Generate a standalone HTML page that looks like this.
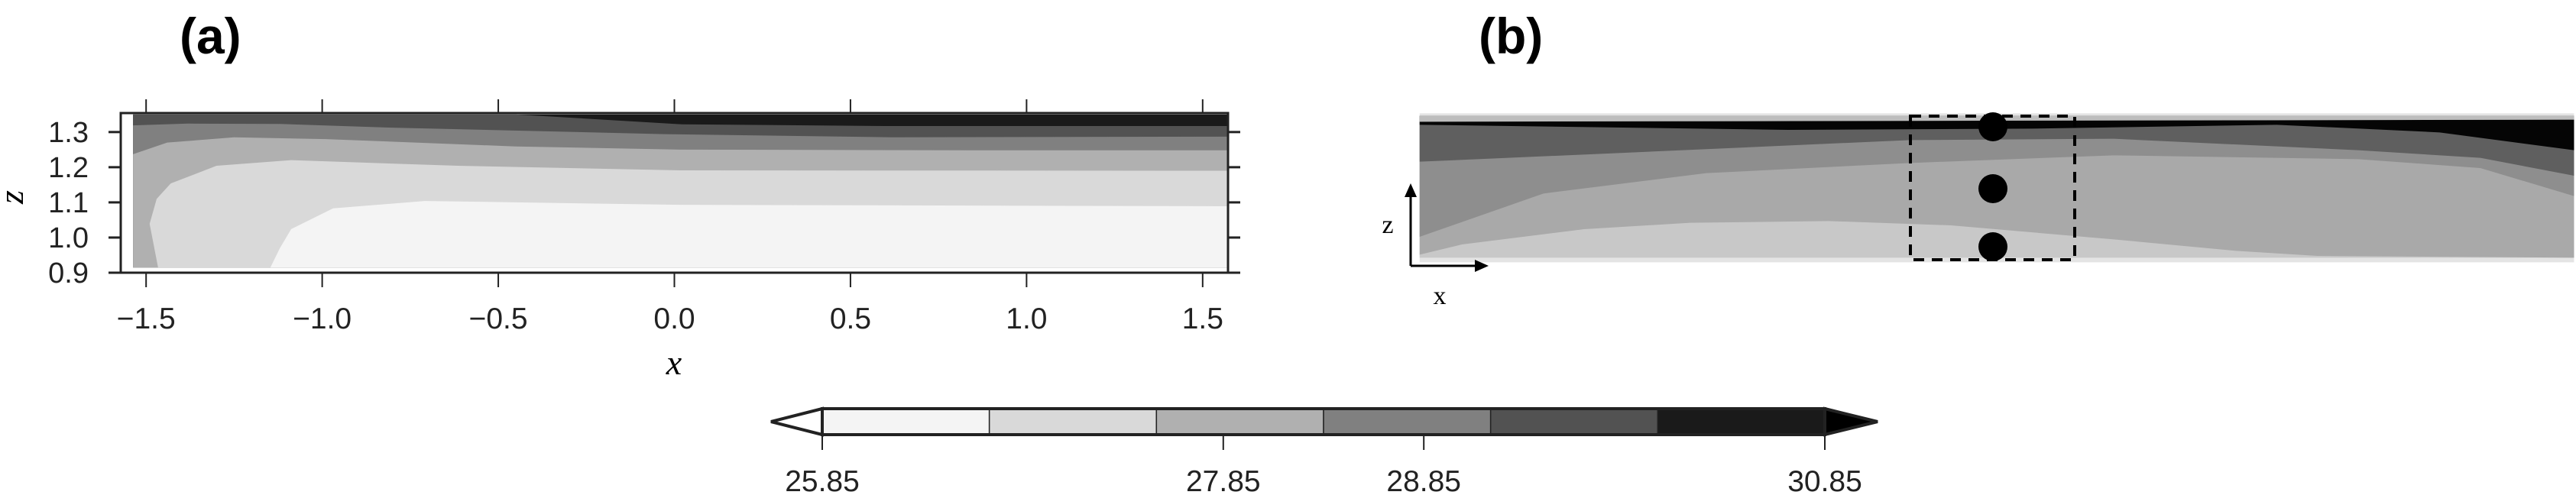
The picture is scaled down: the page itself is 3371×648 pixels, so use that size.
<!DOCTYPE html>
<html><head><meta charset="utf-8"><style>
html,body{margin:0;padding:0;background:#fff;}
svg{display:block;font-family:"Liberation Sans",sans-serif;}
</style></head><body>
<svg id="fig" width="3371" height="648" viewBox="0 0 3371 648">
<text x="235" y="70" font-size="66" font-weight="bold">(a)</text>
<text x="1935" y="70" font-size="66" font-weight="bold">(b)</text>
<g id="pa"></g>
<g id="pb"></g>
<g id="cb"></g>
</svg>
<script>
const NS="http://www.w3.org/2000/svg";
const levelColors=["#f4f4f4","#d9d9d9","#b0b0b0","#808080","#525252","#1a1a1a"];
const cbTickValues=[25.85,27.85,28.85,30.85];
const cbTickLabels=["25.85","27.85","28.85","30.85"];
const xTicks=[-1.5,-1.0,-0.5,0.0,0.5,1.0,1.5];
const xTickLabels=["\u22121.5","\u22121.0","\u22120.5","0.0","0.5","1.0","1.5"];
const zTicks=[0.9,1.0,1.1,1.2,1.3];
const zTickLabels=["0.9","1.0","1.1","1.2","1.3"];
// contour boundaries (x,z) for panel a
const bnd1a_x=[-0.45,0.022,0.6,1.2,1.572];
const bnd1a_z=[1.354,1.322,1.317,1.317,1.317];
const bnd52_x=[-1.537,-1.38,-1.12,-0.82,-0.027,0.62,1.572];
const bnd52_z=[1.319,1.324,1.323,1.313,1.294,1.285,1.287];
const bnd80_x=[-1.537,-1.44,-1.25,-0.99,-0.45,0.02,0.85,1.572];
const bnd80_z=[1.237,1.27,1.285,1.28,1.259,1.25,1.248,1.248];
const bndb0_x=[-1.466,-1.49,-1.47,-1.43,-1.30,-1.088,-0.615,0.02,1.572];
const bndb0_z=[0.915,1.039,1.11,1.154,1.204,1.22,1.204,1.191,1.19];
const bndd9_x=[-1.147,-1.12,-1.088,-0.969,-0.709,0.022,1.572];
const bndd9_z=[0.915,0.97,1.024,1.083,1.104,1.093,1.089];
const X0=158,X1=1607,xmin=-1.572,xmax=1.572;
const Y0=148,Y1=357,zmin=0.9,zmax=1.354;
const sx=v=>X0+(v-xmin)/(xmax-xmin)*(X1-X0);
const sz=v=>Y1-(v-zmin)/(zmax-zmin)*(Y1-Y0);
function mk(tag,attrs,parent){const e=document.createElementNS(NS,tag);for(const k in attrs)e.setAttribute(k,attrs[k]);parent.appendChild(e);return e;}
const pa=document.getElementById('pa');
const fz0=0.915,fz1=1.35,fx0=-1.537;
let r=mk('rect',{x:sx(fx0),y:sz(fz1),width:sx(xmax)-sx(fx0),height:sz(fz0)-sz(fz1),fill:levelColors[5]},pa);


function band(xs,zs,color,name,startsBottom){
  let pts=[];
  if(!startsBottom){pts.push([sx(fx0),sz(fz0)]);}
  for(let i=0;i<xs.length;i++)pts.push([sx(xs[i]),sz(zs[i])]);
  pts.push([sx(xmax),sz(fz0)]);
  if(!startsBottom)pts.push([sx(fx0),sz(fz0)]);
  const p=mk('polygon',{points:pts.map(q=>q.join(',')).join(' '),fill:color},pa);
  
  
}
// level 5 band: below 1a boundary, left part full height
(function(){
  let pts=[[sx(fx0),sz(fz0)],[sx(fx0),sz(fz1)]];
  for(let i=0;i<bnd1a_x.length;i++)pts.push([sx(bnd1a_x[i]),sz(Math.min(bnd1a_z[i],fz1))]);
  pts.push([sx(xmax),sz(fz0)]);
  const p=mk('polygon',{points:pts.map(q=>q.join(',')).join(' '),fill:levelColors[4]},pa);
  
  
})();
band(bnd52_x,bnd52_z,levelColors[3],'band-level-4',false);
band(bnd80_x,bnd80_z,levelColors[2],'band-level-3',false);
band(bndb0_x,bndb0_z,levelColors[1],'band-level-2',true);
band(bndd9_x,bndd9_z,levelColors[0],'band-level-1',true);
// frame
let fr=mk('rect',{x:X0,y:Y0,width:X1-X0,height:Y1-Y0,fill:'none',stroke:'#222','stroke-width':3},pa);


xTicks.forEach((v,i)=>{
  const x=sx(v);
  let t=mk('line',{x1:x,y1:Y0-18,x2:x,y2:Y0,stroke:'#222','stroke-width':2},pa);
  
  
  t=mk('line',{x1:x,y1:Y1,x2:x,y2:Y1+19,stroke:'#222','stroke-width':2},pa);
  
  
  const l=mk('text',{x:x,y:430,'font-size':39,'text-anchor':'middle',fill:'#222'},pa);
  l.textContent=xTickLabels[i];
  
  
});
zTicks.forEach((v,i)=>{
  const y=sz(v);
  let t=mk('line',{x1:X0-16,y1:y,x2:X0,y2:y,stroke:'#222','stroke-width':3},pa);
  
  
  t=mk('line',{x1:X1,y1:y,x2:X1+16,y2:y,stroke:'#222','stroke-width':3},pa);
  
  
  const l=mk('text',{x:116,y:y+13,'font-size':38,'text-anchor':'end',fill:'#222'},pa);
  l.textContent=zTickLabels[i];
  
  
});
let xl=mk('text',{x:882,y:490,'font-size':46,'font-style':'italic','font-family':'Liberation Serif, serif','text-anchor':'middle'},pa);
xl.textContent='x';


let zl=mk('text',{x:0,y:0,'font-size':46,'font-style':'italic','font-family':'Liberation Serif, serif','text-anchor':'middle',transform:'translate(30,258) rotate(-90)'},pa);
zl.textContent='z';



// panel b (photo-like image)
const pb=document.getElementById('pb');
const bx=d=>1700+d/0.938, by=d=>d/3;
function poly(arr,color,name){
  const p=mk('polygon',{points:arr.map(q=>bx(q[0])+','+by(q[1])).join(' '),fill:color},pb);
  
  
}
poly([[148,445],[1565,445],[1565,1030],[148,1030]],'#e4e4e4','image-edge');
poly([[148,455],[1565,455],[1565,1012],[148,1012]],'#c8c8c8','band-lightest');
const bBlack=[[148,490],[600,510],[900,505],[1200,490],[1400,520],[1565,590]];
const bDark=[[148,635],[400,600],[750,550],[1000,545],[1300,590],[1450,620],[1565,690]];
const bMid=[[148,930],[300,760],[500,680],[750,640],[1000,610],[1300,625],[1450,660],[1565,770]];
const bLight=[[148,1000],[200,960],[350,900],[480,875],[650,868],[800,885],[1000,940],[1150,985],[1250,1005],[1565,1012]];
poly([[148,455],[1565,455]].concat(bLight.slice().reverse()),'#a9a9a9','band-light');
poly([[148,455],[1565,455]].concat(bMid.slice().reverse()),'#8e8e8e','band-mid');
poly([[148,455],[1565,455]].concat(bDark.slice().reverse()),'#5f5f5f','band-dark');
poly([[148,478],[1565,470]].concat(bBlack.slice().reverse()),'#050505','band-black');
poly([[148,455],[1565,455],[1565,470],[148,478]],'#bdbdbd','band-top');
let box=mk('rect',{x:2500,y:152,width:215,height:188,fill:'none',stroke:'#000','stroke-width':4,'stroke-dasharray':'14,10'},pb);


[166,247,323].forEach(y=>{
  const c=mk('circle',{cx:2608,cy:y,r:19,fill:'#000'},pb);
  
  
});
let ax=mk('path',{d:'M1846,348 L1846,252 M1846,348 L1937,348',stroke:'#000','stroke-width':3,fill:'none'},pb);


let ah=mk('path',{d:'M1838,258 L1846,240 L1854,258 Z M1930,340 L1948,348 L1930,356 Z',fill:'#000'},pb);


let tz=mk('text',{x:1816,y:305,'font-size':34,'font-family':'Liberation Serif, serif','text-anchor':'middle'},pb);
tz.textContent='z';


let tx=mk('text',{x:1884,y:398,'font-size':34,'font-family':'Liberation Serif, serif','text-anchor':'middle'},pb);
tx.textContent='x';



// colorbar
const cb=document.getElementById('cb');
const CB0=1076,CB1=2388,CT=535,CBt=569,vmin=25.85,vmax=30.85;
const sc=v=>CB0+(v-vmin)/(vmax-vmin)*(CB1-CB0);
const segW=(CB1-CB0)/levelColors.length;
levelColors.forEach((c,i)=>{
  const s=mk('rect',{x:CB0+i*segW,y:CT,width:segW,height:CBt-CT,fill:c,stroke:'#222','stroke-width':1.5},cb);
  
  
});
let la=mk('polygon',{points:`${CB0},${CT} 1009,552 ${CB0},${CBt}`,fill:'#fff',stroke:'#222','stroke-width':4},cb);


let ra=mk('polygon',{points:`${CB1},${CT} 2457,552 ${CB1},${CBt}`,fill:'#000',stroke:'#222','stroke-width':4},cb);


let cbf=mk('rect',{x:CB0,y:CT,width:CB1-CB0,height:CBt-CT,fill:'none',stroke:'#222','stroke-width':4},cb);


cbTickValues.forEach((v,i)=>{
  const x=sc(v);
  const t=mk('line',{x1:x,y1:CBt,x2:x,y2:589,stroke:'#222','stroke-width':2},cb);
  
  
  const l=mk('text',{x:x,y:643,'font-size':39,'text-anchor':'middle',fill:'#222'},cb);
  l.textContent=cbTickLabels[i];
  
  
});
</script>
</body></html>
